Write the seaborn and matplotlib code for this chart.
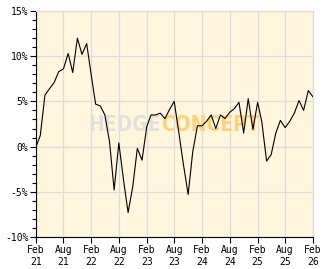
import numpy as np
import pandas as pd
import matplotlib
matplotlib.use("Agg")
import matplotlib.pyplot as plt
import seaborn as sns

# ---- data (monthly, Feb 2021 .. Feb 2026), percent ----
start_month = "2021-02-01"
values = [
    0.0, 1.2, 5.7, 6.4, 7.1, 8.3, 8.6, 10.3, 8.2, 12.0, 10.2,          # 2021 Feb-Dec
    11.4, 7.8, 4.7, 4.5, 3.5, 0.5, -4.8, 0.4, -3.7, -7.3, -4.4, -0.2,  # 2022
    -1.5, 2.2, 3.5, 3.5, 3.7, 3.1, 4.1, 5.0, 1.5, -2.0, -5.3, -0.6,    # 2023
    2.3, 2.3, 2.8, 3.5, 2.0, 3.5, 3.1, 3.8, 4.2, 4.9, 1.5, 5.3,        # 2024
    1.9, 4.9, 2.7, -1.6, -0.9, 1.5, 2.9, 2.1, 2.8, 3.7, 5.1, 4.0,      # 2025
    6.2, 5.5,                                                          # 2026
]
x_tick_dates = ["2021-02-01", "2021-08-01", "2022-02-01", "2022-08-01",
                "2023-02-01", "2023-08-01", "2024-02-01", "2024-08-01",
                "2025-02-01", "2025-08-01", "2026-02-01"]
x_tick_labels = ["Feb\n21", "Aug\n21", "Feb\n22", "Aug\n22", "Feb\n23", "Aug\n23",
                 "Feb\n24", "Aug\n24", "Feb\n25", "Aug\n25", "Feb\n26"]
y_ticks = [-10, -5, 0, 5, 10, 15]
y_tick_labels = ["-10%", "-5%", "0%", "5%", "10%", "15%"]

dates = pd.date_range(start_month, periods=len(values), freq="MS")
df = pd.DataFrame({"date": dates, "value": values})

sns.set_style("ticks")
plt.rcParams["font.family"] = ["DejaVu Sans Mono", "DejaVu Sans"]

W, H = 332, 269
fig = plt.figure(figsize=(W / 100, H / 100), dpi=100)
fig.patch.set_facecolor("white")
ax = fig.add_axes([36 / W, (H - 237) / H, (313 - 36) / W, (237 - 11) / H])
ax.set_facecolor("#fff6dd")

grid_c = "#dcdcdc"
# watermark
wm_kw = dict(transform=ax.transAxes, va="center", fontweight="bold",
             fontstretch="condensed", fontsize=15, zorder=1,
             family=["DejaVu Sans"])
ax.text(0.45, 0.495, "HEDGE", ha="right", color="#e2e0dc", **wm_kw)
ax.text(0.45, 0.495, "CONCEPT", ha="left", color="#fcd27c", **wm_kw)

sns.lineplot(data=df, x="date", y="value", ax=ax, color="black", linewidth=0.8,
             zorder=3)

ax.set_xlim(pd.Timestamp(x_tick_dates[0]), pd.Timestamp(x_tick_dates[-1]))
ax.set_ylim(-10, 15)
ax.set_xticks(pd.to_datetime(x_tick_dates))
ax.set_xticklabels(x_tick_labels, fontsize=7, linespacing=1.3)
ax.set_yticks(y_ticks)
ax.set_yticklabels(y_tick_labels, fontsize=7)
ax.set_yticks(np.arange(-10, 16, 1), minor=True)

ax.grid(True, which="major", color=grid_c, linewidth=0.9, zorder=0)
ax.set_axisbelow(True)
ax.tick_params(axis="both", which="major", length=4, width=0.8, color="black",
               pad=1.5, labelcolor="black")
ax.tick_params(axis="y", which="minor", length=3, width=0.8, color="black")
ax.tick_params(axis="x", which="major", pad=1.5)

for s in ["left", "bottom"]:
    ax.spines[s].set_color("black")
    ax.spines[s].set_linewidth(0.8)
for s in ["top", "right"]:
    ax.spines[s].set_color(grid_c)
    ax.spines[s].set_linewidth(0.9)

ax.set_xlabel("")
ax.set_ylabel("")

fig.savefig("out.png", dpi=100, facecolor="white")
